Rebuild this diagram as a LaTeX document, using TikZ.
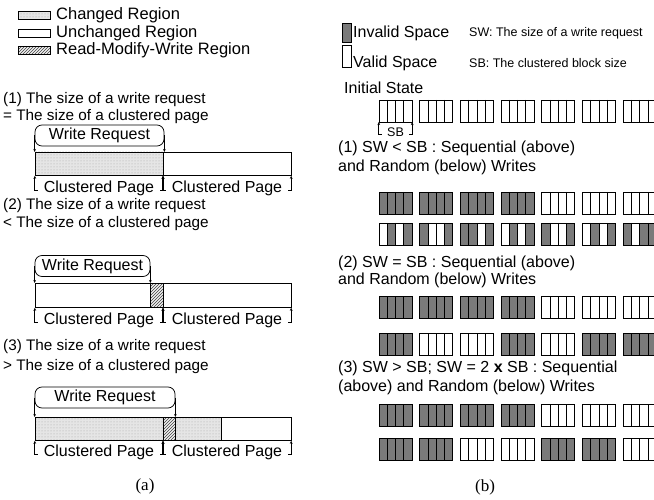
\documentclass[tikz,border=0pt]{standalone}
\usepackage{fontspec}
\setmainfont{Liberation Sans}
\newfontfamily\capfont{Liberation Serif}
\usetikzlibrary{arrows.meta,patterns}
\newcommand\blockrow[2]{%
  \foreach \i/\a/\b/\c/\d in {#2}{%
    \pgfmathsetmacro\bx{379+40.7*\i}%
    \foreach \k/\v in {0/\a,1/\b,2/\c,3/\d}{%
      \ifnum\v=1 \fill[invfill] (\bx+8.25*\k,#1) rectangle ++(8.25,22);\fi
    }%
    \draw[ln] (\bx,#1) rectangle ++(33,22);
    \foreach \k in {1,2,3}{\draw[ln] (\bx+8.25*\k,#1) -- ++(0,22);}%
  }%
}
\begin{document}
\begin{tikzpicture}[x=1pt,y=-1pt,
  lbl/.style={font=\fontsize{16}{19}\selectfont, inner sep=0pt, anchor=west},
  lgd/.style={font=\fontsize{16.5}{19}\selectfont, inner sep=0pt, anchor=west},
  sent/.style={font=\fontsize{15.3}{18}\selectfont, inner sep=0pt, anchor=west},
  sml/.style={font=\fontsize{12.5}{15}\selectfont, inner sep=0pt, anchor=west},
  captxt/.style={font=\capfont\fontsize{17}{20}\selectfont, inner sep=0pt},
  ln/.style={line width=0.75pt},
  wrbox/.style={draw, ln, rounded corners=7pt, minimum height=21pt, inner sep=0pt, font=\fontsize{16}{19}\selectfont},
  pagelbl/.style={inner sep=0pt, font=\fontsize{16}{19}\selectfont, minimum height=14pt},
  barbox/.style={draw, ln, inner sep=0pt, anchor=north west, minimum width=256pt},
  chg/.style={preaction={fill=black!10}, pattern=dots, pattern color=black!35},
  rmw/.style={preaction={fill=black!6}, pattern=north east lines, pattern color=black!75},
  invfill/.style={fill=black!52},
  tipd/.style={-{Stealth[length=3pt,width=2.6pt]}},
  tipu/.style={{Stealth[length=3pt,width=2.6pt]}-},
]
\useasboundingbox (0,0) rectangle (654,500);
\fill[white] (0,0) rectangle (654,500);

% ---------- left legend ----------
\node[draw, ln, chg, minimum width=32pt, minimum height=8pt, inner sep=0pt, anchor=north west] (lgc) at (18,11) {};
\node[lgd] (lgct) at (56,15) {Changed Region};
\node[draw, ln, minimum width=32pt, minimum height=8pt, inner sep=0pt, anchor=north west] (lgu) at (18,29) {};
\node[lgd] (lgut) at (56,33) {Unchanged Region};
\node[draw, ln, rmw, minimum width=32pt, minimum height=8pt, inner sep=0pt, anchor=north west] (lgr) at (18,46) {};
\node[lgd] (lgrt) at (56,50) {Read-Modify-Write Region};

% ---------- case (1) ----------
\node[sent] (t1a) at (3,100) {(1) The size of a write request};
\node[sent] (t1b) at (3,117) {= The size of a clustered page};
\draw[ln, chg] (35,152) rectangle (163,175);
\node[barbox, minimum height=23pt] (bar1) at (35,152) {};
\node[wrbox, minimum width=129pt] (wr1) at (99.5,135.5) {Write Request};
\draw[ln,tipd] (wr1.west) -- (wr1.west |- bar1.north);
\draw[ln,tipd] (wr1.east) -- (wr1.east |- bar1.north);
\node[pagelbl, minimum width=128pt] (cp1a) at (99,188) {Clustered Page};
\node[pagelbl, minimum width=128pt] (cp1b) at (227,188) {Clustered Page};
\foreach \n in {cp1a,cp1b}{
  \draw[ln,tipu] (\n.west |- bar1.south) -- ([yshift=-2pt]\n.west) -- ++(3,0);
  \draw[ln,tipu] (\n.east |- bar1.south) -- ([yshift=-2pt]\n.east) -- ++(-3,0);
}

% ---------- case (2) ----------
\node[sent] (t2a) at (3,206) {(2) The size of a write request};
\node[sent] (t2b) at (3,224) {< The size of a clustered page};
\draw[ln, rmw] (150,283) rectangle (163,307);
\node[barbox, minimum height=24pt] (bar2) at (35,283) {};
\node[wrbox, minimum width=115pt] (wr2) at (92.5,266) {Write Request};
\draw[ln,tipd] (wr2.west) -- (wr2.west |- bar2.north);
\draw[ln,tipd] (wr2.east) -- (wr2.east |- bar2.north);
\node[pagelbl, minimum width=128pt] (cp2a) at (99,320) {Clustered Page};
\node[pagelbl, minimum width=128pt] (cp2b) at (227,320) {Clustered Page};
\foreach \n in {cp2a,cp2b}{
  \draw[ln,tipu] (\n.west |- bar2.south) -- ([yshift=-2pt]\n.west) -- ++(3,0);
  \draw[ln,tipu] (\n.east |- bar2.south) -- ([yshift=-2pt]\n.east) -- ++(-3,0);
}

% ---------- case (3) ----------
\node[sent] (t3a) at (3,347) {(3) The size of a write request};
\node[sent] (t3b) at (3,367) {> The size of a clustered page};
\draw[ln, chg] (35,417) rectangle (163,440);
\draw[ln, rmw] (163,417) rectangle (175,440);
\draw[ln, chg] (175,417) rectangle (221,440);
\node[barbox, minimum height=23pt] (bar3) at (35,417) {};
\node[wrbox, minimum width=140pt] (wr3) at (105,397.5) {Write Request};
\draw[ln,tipd] (wr3.west) -- (wr3.west |- bar3.north);
\draw[ln,tipd] (wr3.east) -- (wr3.east |- bar3.north);
\node[pagelbl, minimum width=128pt] (cp3a) at (99,452) {Clustered Page};
\node[pagelbl, minimum width=128pt] (cp3b) at (227,452) {Clustered Page};
\foreach \n in {cp3a,cp3b}{
  \draw[ln,tipu] (\n.west |- bar3.south) -- ([yshift=-2pt]\n.west) -- ++(3,0);
  \draw[ln,tipu] (\n.east |- bar3.south) -- ([yshift=-2pt]\n.east) -- ++(-3,0);
}
\node[captxt] (capa) at (145,486) {(a)};

% ---------- right legend ----------
\node[draw, ln, invfill, minimum width=9pt, minimum height=19pt, inner sep=0pt, anchor=north west] (lginv) at (342,23) {};
\node[lbl] (lginvt) at (353,33) {Invalid Space};
\node[draw, ln, minimum width=9pt, minimum height=22pt, inner sep=0pt, anchor=north west] (lgval) at (342,45) {};
\node[lbl] (lgvalt) at (353,63) {Valid Space};
\node[sml] (sw) at (469,33) {SW: The size of a write request};
\node[sml] (sb) at (469,63) {SB: The clustered block size};

% ---------- initial state ----------
\node[lbl] (init) at (344,88) {Initial State};
\blockrow{100}{0/0/0/0/0,1/0/0/0/0,2/0/0/0/0,3/0/0/0/0,4/0/0/0/0,5/0/0/0/0,6/0/0/0/0}
\coordinate (blk0) at (379,122);
\node[sml, anchor=center, minimum width=33pt] (sbl) at (395.5,132) {SB};
\draw[ln,tipu] (sbl.west |- blk0) -- ([yshift=-2pt]sbl.west) -- ++(3,0);
\draw[ln,tipu] (sbl.east |- blk0) -- ([yshift=-2pt]sbl.east) -- ++(-3,0);

% ---------- row (1) ----------
\node[lbl] (r1a) at (338,148) {(1) SW < SB : Sequential (above)};
\node[lbl] (r1b) at (338,167) {and Random (below) Writes};
\blockrow{192}{0/1/1/1/1,1/1/1/1/1,2/1/1/1/1,3/1/1/1/1,4/0/0/0/0,5/0/0/0/0,6/0/0/0/0}
\blockrow{223}{0/0/1/0/1,1/1/0/0/1,2/1/1/0/1,3/0/1/0/1,4/1/0/0/1,5/0/1/0/1,6/1/0/1/1}

% ---------- row (2) ----------
\node[lbl] (r2a) at (338,263) {(2) SW = SB : Sequential (above)};
\node[lbl] (r2b) at (338,280) {and Random (below) Writes};
\blockrow{296}{0/1/1/1/1,1/1/1/1/1,2/1/1/1/1,3/1/1/1/1,4/0/0/0/0,5/0/0/0/0,6/0/0/0/0}
\blockrow{333}{0/1/1/1/1,1/0/0/0/0,2/0/0/0/0,3/1/1/1/1,4/0/0/0/0,5/1/1/1/1,6/1/1/1/1}

% ---------- row (3) ----------
\node[lbl] (r3a) at (338,368) {(3) SW > SB; SW = 2 \textbf{x} SB : Sequential};
\node[lbl] (r3b) at (338,387) {(above) and Random (below) Writes};
\blockrow{404}{0/1/1/1/1,1/1/1/1/1,2/1/1/1/1,3/1/1/1/1,4/0/0/0/0,5/0/0/0/0,6/0/0/0/0}
\blockrow{438}{0/1/1/1/1,1/1/1/1/1,2/0/0/0/0,3/0/0/0/0,4/1/1/1/1,5/1/1/1/1,6/0/0/0/0}
\node[captxt] (capb) at (485,487) {(b)};
\end{tikzpicture}
\end{document}
